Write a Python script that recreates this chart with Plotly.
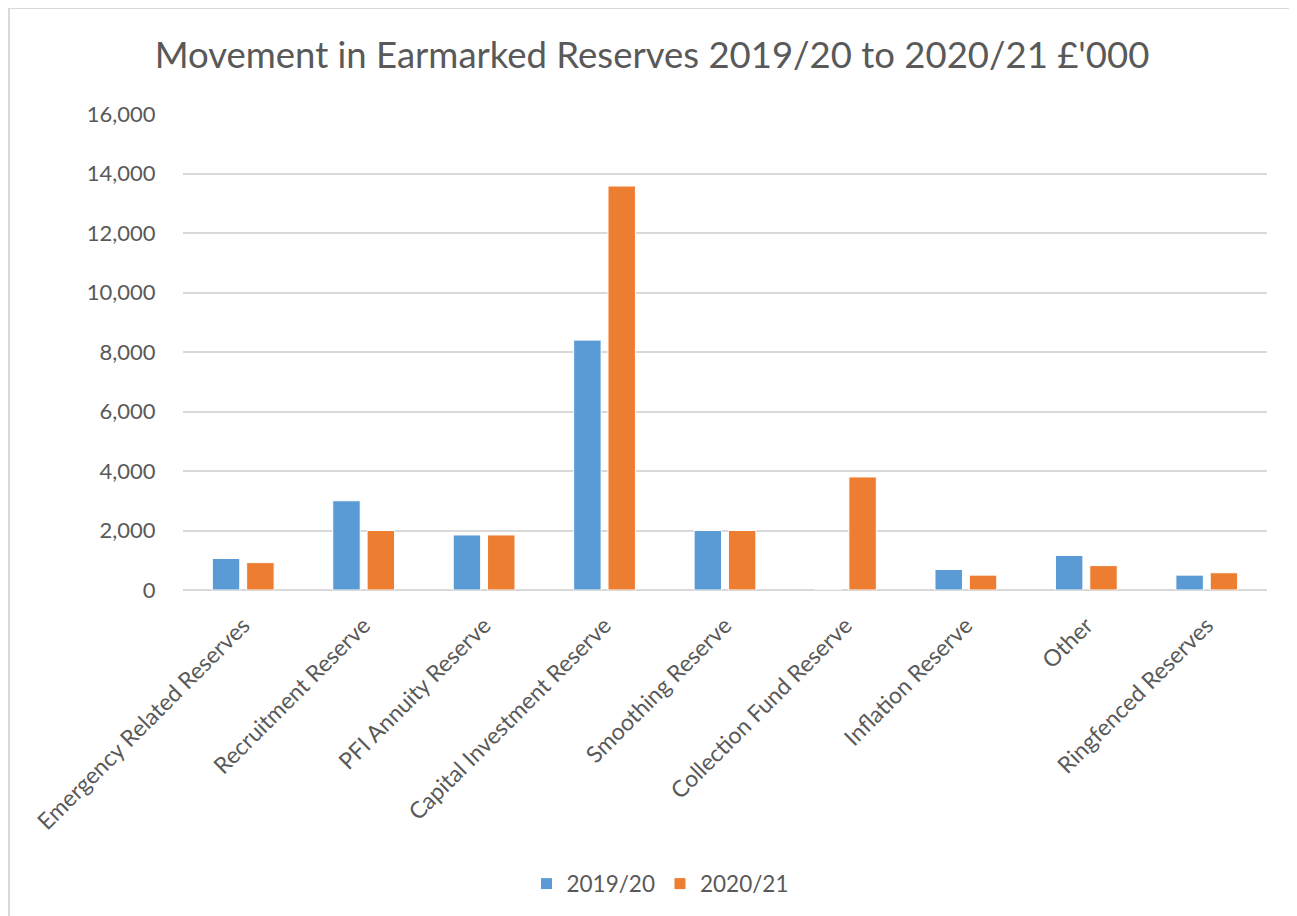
import plotly.graph_objects as go

categories = [
    "Emergency Related Reserves",
    "Recruitment Reserve",
    "PFI Annuity Reserve",
    "Capital Investment Reserve",
    "Smoothing Reserve",
    "Collection Fund Reserve",
    "Inflation Reserve",
    "Other",
    "Ringfenced Reserves",
]
values_2019_20 = [1060, 3000, 1850, 8400, 2000, 0, 690, 1160, 500]
values_2020_21 = [920, 2000, 1850, 13580, 2000, 3800, 500, 820, 580]
y_ticks = [0, 2000, 4000, 6000, 8000, 10000, 12000, 14000, 16000]

FONT = "Lato"
GREY = "#595959"

fig = go.Figure()
fig.add_trace(go.Bar(name="2019/20", x=categories, y=values_2019_20,
                     marker=dict(color="#5B9BD5", line=dict(color="white", width=1))))
fig.add_trace(go.Bar(name="2020/21", x=categories, y=values_2020_21,
                     marker=dict(color="#ED7D31", line=dict(color="white", width=1))))

OFF = 8  # page body offset
W, H = 1297 - OFF, 916 - OFF
L, R, T = 183 - OFF, 1297 - 1267, 114 - OFF
B = H - (590 - OFF)
pw, ph = W - L - R, H - T - B

fig.update_layout(
    width=W, height=H,
    margin=dict(l=L, r=R, t=T, b=B, autoexpand=False),
    paper_bgcolor="white", plot_bgcolor="white",
    barmode="group", bargap=0.43, bargroupgap=0.2,
    font=dict(family=FONT, color=GREY, size=22),
    title=dict(text="Movement in Earmarked Reserves 2019/20 to 2020/21 £'000",
               x=(652 - OFF) / W, xref="container", xanchor="center",
               y=1 - (55 - OFF) / H, yanchor="middle",
               font=dict(family=FONT, size=36.5, color=GREY)),
    showlegend=True,
    legend=dict(orientation="h", x=(660 - OFF) / W, xanchor="center", xref="container",
                y=-(884 - 590) / ph, yanchor="middle",
                font=dict(family=FONT, size=22.5, color=GREY),
                traceorder="normal", itemwidth=30),
    xaxis=dict(tickangle=-45, showgrid=False, showline=False, zeroline=False,
               ticks="outside", ticklen=12, tickcolor="rgba(0,0,0,0)",
               tickfont=dict(family=FONT, size=23, color=GREY)),
    yaxis=dict(range=[0, 16000], tickvals=y_ticks, tickformat=",",
               showgrid=True, gridcolor="#D9D9D9", gridwidth=1.5,
               zeroline=True, zerolinecolor="#D9D9D9", zerolinewidth=1.5,
               showline=False, ticks="outside", ticklen=22, tickcolor="rgba(0,0,0,0)",
               tickfont=dict(family=FONT, size=22, color=GREY)),
    shapes=[dict(type="rect", xref="paper", yref="paper",
                 x0=(1 - L) / pw, x1=(W + 20 - L) / pw,
                 y0=-(916 + 20 - 590) / ph, y1=(590 - 8) / ph,
                 line=dict(color="#D9D9D9", width=2), layer="below")],
)

fig.write_html("out.html")
